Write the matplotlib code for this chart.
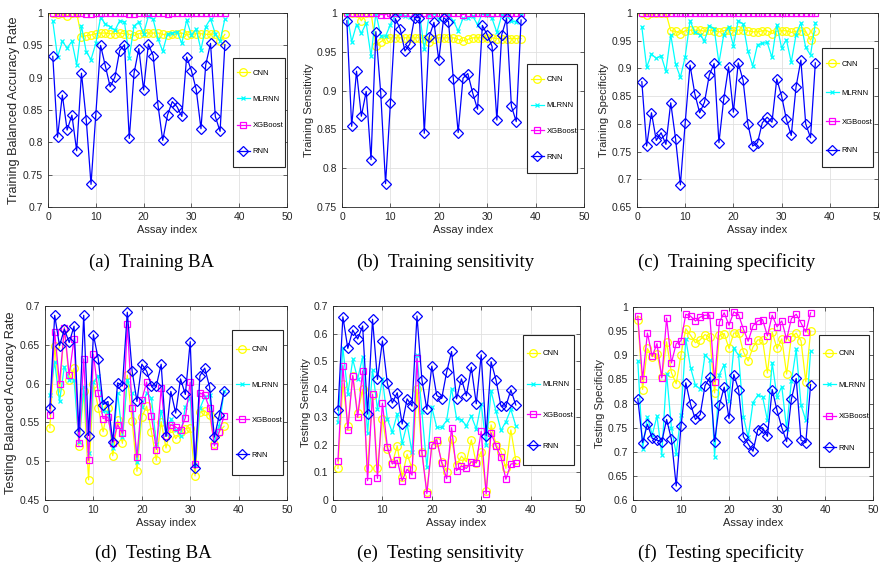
import numpy as np
import matplotlib
matplotlib.use("Agg")
import matplotlib.pyplot as plt
from matplotlib.patches import Rectangle

plt.rcParams['font.family'] = ['Liberation Sans', 'DejaVu Sans']

idx = np.arange(1, 38)
models = ['CNN', 'MLRNN', 'XGBoost', 'RNN']

# (a) training balanced accuracy
a_cnn = [1.0, 0.998, 1.0, 0.995, 1.0, 1.0, 0.963, 0.965, 0.966, 0.968, 0.969, 0.969, 0.968, 0.968, 0.969,
         0.968, 0.967, 0.965, 0.968, 0.969, 0.969, 0.969, 0.969, 0.967, 0.966, 0.967, 0.968, 0.969, 0.966,
         0.967, 0.968, 0.968, 0.967, 0.967, 0.968, 0.956, 0.967]
a_mlrnn = [0.987, 0.932, 0.956, 0.946, 0.956, 0.920, 0.980, 0.940, 0.928, 0.953, 0.993, 0.983, 0.979,
           0.973, 0.988, 0.986, 0.931, 0.980, 0.986, 0.968, 0.995, 0.990, 0.960, 0.941, 0.968, 0.969,
           0.971, 0.953, 0.989, 0.966, 0.975, 0.943, 0.979, 0.991, 0.968, 0.956, 0.991]
a_xgb = [1.0] * 7 + [0.999, 0.999] + [1.0] * 7 + [0.999, 0.999] + [1.0] * 6 + [0.999] + [1.0] * 12
a_rnn = [0.933, 0.808, 0.873, 0.819, 0.842, 0.787, 0.907, 0.835, 0.735, 0.843, 0.950, 0.918, 0.886,
         0.901, 0.942, 0.951, 0.806, 0.907, 0.945, 0.881, 0.952, 0.934, 0.858, 0.803, 0.842, 0.863,
         0.855, 0.840, 0.932, 0.911, 0.882, 0.821, 0.920, 0.953, 0.840, 0.817, 0.951]

# (b) training sensitivity
b_cnn = [1.0, 1.0, 1.0, 0.990, 1.0, 1.0, 0.958, 0.963, 0.967, 0.968, 0.968, 0.968, 0.968, 0.968, 0.968,
         0.968, 0.966, 0.962, 0.967, 0.968, 0.968, 0.968, 0.968, 0.966, 0.964, 0.966, 0.968, 0.968, 0.968,
         0.968, 0.968, 0.967, 0.967, 0.967, 0.967, 0.967, 0.967]
b_mlrnn = [1.0, 0.963, 0.985, 0.974, 0.987, 0.944, 1.0, 0.971, 0.970, 0.985, 0.997, 0.998, 0.996, 0.995,
           0.997, 1.0, 0.953, 0.998, 1.0, 0.992, 1.0, 0.998, 0.990, 0.977, 0.993, 0.993, 0.996, 0.985,
           1.0, 0.998, 0.993, 0.975, 0.997, 0.996, 0.990, 0.988, 1.0]
b_xgb = [1.0] * 7 + [0.998, 0.998] + [1.0] * 8 + [0.998] + [1.0] * 6 + [0.998] + [1.0] * 12
b_rnn = [0.990, 0.854, 0.925, 0.867, 0.899, 0.811, 0.976, 0.897, 0.780, 0.884, 0.993, 0.980, 0.951,
         0.960, 0.994, 0.994, 0.845, 0.969, 0.988, 0.939, 0.994, 0.989, 0.915, 0.846, 0.916, 0.922,
         0.897, 0.876, 0.984, 0.972, 0.957, 0.862, 0.972, 0.993, 0.880, 0.860, 0.991]

# (c) training specificity
c_cnn = [1.0, 0.997, 1.0, 1.0, 1.0, 1.0, 0.968, 0.967, 0.963, 0.968, 0.969, 0.969, 0.969, 0.967, 0.969,
         0.968, 0.966, 0.968, 0.969, 0.968, 0.969, 0.969, 0.968, 0.966, 0.966, 0.968, 0.968, 0.963, 0.967,
         0.968, 0.968, 0.965, 0.967, 0.968, 0.967, 0.951, 0.967]
c_mlrnn = [0.975, 0.902, 0.926, 0.918, 0.923, 0.895, 0.961, 0.908, 0.884, 0.921, 0.986, 0.965, 0.961,
           0.950, 0.977, 0.972, 0.910, 0.961, 0.975, 0.941, 0.986, 0.980, 0.931, 0.905, 0.943, 0.945,
           0.947, 0.920, 0.979, 0.937, 0.952, 0.911, 0.961, 0.982, 0.938, 0.924, 0.982]
c_xgb = [1.0] * 37
c_rnn = [0.876, 0.760, 0.820, 0.770, 0.784, 0.763, 0.838, 0.773, 0.690, 0.802, 0.906, 0.854, 0.820,
         0.839, 0.888, 0.909, 0.766, 0.845, 0.903, 0.821, 0.910, 0.879, 0.800, 0.760, 0.766, 0.802,
         0.812, 0.803, 0.881, 0.850, 0.808, 0.779, 0.867, 0.915, 0.800, 0.775, 0.910]

# (d) testing balanced accuracy
d_cnn = [0.543, 0.648, 0.589, 0.671, 0.605, 0.620, 0.519, 0.590, 0.476, 0.600, 0.569, 0.538, 0.568,
         0.507, 0.553, 0.523, 0.611, 0.552, 0.487, 0.557, 0.571, 0.538, 0.501, 0.551, 0.517, 0.543,
         0.529, 0.538, 0.542, 0.543, 0.481, 0.563, 0.565, 0.559, 0.522, 0.538, 0.545]
d_mlrnn = [0.585, 0.628, 0.577, 0.622, 0.605, 0.605, 0.525, 0.596, 0.511, 0.602, 0.610, 0.565, 0.563,
           0.517, 0.588, 0.531, 0.605, 0.588, 0.499, 0.570, 0.588, 0.581, 0.522, 0.565, 0.535, 0.554,
           0.540, 0.533, 0.570, 0.582, 0.495, 0.568, 0.583, 0.585, 0.525, 0.545, 0.590]
d_xgb = [0.560, 0.667, 0.600, 0.672, 0.611, 0.658, 0.524, 0.632, 0.501, 0.638, 0.588, 0.555, 0.557,
         0.524, 0.547, 0.536, 0.677, 0.569, 0.505, 0.579, 0.602, 0.558, 0.515, 0.594, 0.532, 0.547,
         0.544, 0.540, 0.556, 0.602, 0.497, 0.588, 0.585, 0.568, 0.520, 0.538, 0.558]
d_rnn = [0.568, 0.688, 0.649, 0.670, 0.653, 0.674, 0.538, 0.688, 0.533, 0.663, 0.632, 0.573, 0.577,
         0.525, 0.601, 0.597, 0.692, 0.616, 0.577, 0.625, 0.616, 0.597, 0.597, 0.625, 0.532, 0.590,
         0.562, 0.606, 0.586, 0.654, 0.491, 0.610, 0.620, 0.596, 0.531, 0.559, 0.590]

# (e) testing sensitivity
e_cnn = [0.114, 0.420, 0.267, 0.448, 0.313, 0.400, 0.114, 0.380, 0.114, 0.292, 0.184, 0.132, 0.196,
         0.084, 0.165, 0.114, 0.400, 0.174, 0.030, 0.199, 0.211, 0.138, 0.102, 0.220, 0.126, 0.158,
         0.138, 0.217, 0.132, 0.175, 0.032, 0.271, 0.200, 0.175, 0.114, 0.253, 0.144]
e_mlrnn = [0.282, 0.550, 0.382, 0.507, 0.437, 0.517, 0.240, 0.470, 0.328, 0.437, 0.292, 0.245, 0.310,
           0.205, 0.274, 0.172, 0.522, 0.316, 0.118, 0.335, 0.262, 0.262, 0.287, 0.402, 0.296, 0.290,
           0.268, 0.303, 0.257, 0.348, 0.197, 0.393, 0.320, 0.251, 0.283, 0.327, 0.268]
e_xgb = [0.141, 0.485, 0.254, 0.449, 0.298, 0.466, 0.070, 0.382, 0.078, 0.349, 0.193, 0.130, 0.144,
         0.070, 0.111, 0.090, 0.511, 0.171, 0.023, 0.197, 0.218, 0.135, 0.077, 0.261, 0.106, 0.123,
         0.114, 0.138, 0.135, 0.248, 0.022, 0.243, 0.194, 0.154, 0.075, 0.130, 0.132]
e_rnn = [0.324, 0.661, 0.547, 0.613, 0.581, 0.628, 0.310, 0.652, 0.435, 0.574, 0.421, 0.350, 0.387,
         0.274, 0.365, 0.339, 0.664, 0.433, 0.327, 0.483, 0.377, 0.366, 0.461, 0.536, 0.365, 0.437,
         0.376, 0.479, 0.347, 0.524, 0.232, 0.499, 0.433, 0.339, 0.339, 0.397, 0.343]

# (f) testing specificity
f_cnn = [0.974, 0.829, 0.914, 0.897, 0.903, 0.855, 0.928, 0.864, 0.841, 0.901, 0.955, 0.941, 0.926,
         0.932, 0.943, 0.937, 0.822, 0.941, 0.945, 0.914, 0.946, 0.946, 0.907, 0.888, 0.917, 0.932,
         0.931, 0.863, 0.948, 0.914, 0.934, 0.861, 0.938, 0.946, 0.930, 0.845, 0.950]
f_mlrnn = [0.888, 0.706, 0.772, 0.735, 0.774, 0.694, 0.862, 0.750, 0.696, 0.777, 0.933, 0.874, 0.838,
           0.830, 0.901, 0.890, 0.690, 0.860, 0.880, 0.806, 0.914, 0.900, 0.773, 0.730, 0.802, 0.817,
           0.814, 0.765, 0.884, 0.814, 0.835, 0.748, 0.846, 0.912, 0.797, 0.765, 0.909]
f_xgb = [0.981, 0.850, 0.946, 0.898, 0.924, 0.853, 0.977, 0.884, 0.924, 0.930, 0.985, 0.981, 0.971,
         0.979, 0.983, 0.983, 0.845, 0.969, 0.988, 0.962, 0.990, 0.984, 0.954, 0.929, 0.961, 0.971,
         0.974, 0.940, 0.983, 0.959, 0.971, 0.933, 0.976, 0.985, 0.967, 0.948, 0.988]
f_rnn = [0.810, 0.719, 0.757, 0.728, 0.724, 0.721, 0.767, 0.726, 0.629, 0.753, 0.843, 0.798, 0.767,
         0.777, 0.837, 0.854, 0.721, 0.797, 0.834, 0.769, 0.860, 0.828, 0.731, 0.716, 0.701, 0.746,
         0.750, 0.732, 0.829, 0.786, 0.750, 0.721, 0.809, 0.852, 0.724, 0.719, 0.839]

panels = [
    ([a_cnn, a_mlrnn, a_xgb, a_rnn], 'Training Balanced Accuracy Rate', (0.7, 1.0), 0.05, '(a)  Training BA'),
    ([b_cnn, b_mlrnn, b_xgb, b_rnn], 'Training Sensitivity', (0.75, 1.0), 0.05, '(b)  Training sensitivity'),
    ([c_cnn, c_mlrnn, c_xgb, c_rnn], 'Training Specificity', (0.65, 1.0), 0.05, '(c)  Training specificity'),
    ([d_cnn, d_mlrnn, d_xgb, d_rnn], 'Testing Balanced Accuracy Rate', (0.45, 0.7), 0.05, '(d)  Testing BA'),
    ([e_cnn, e_mlrnn, e_xgb, e_rnn], 'Testing Sensitivity', (0.0, 0.7), 0.1, '(e)  Testing sensitivity'),
    ([f_cnn, f_mlrnn, f_xgb, f_rnn], 'Testing Specificity', (0.6, 1.0), 0.05, '(f)  Testing specificity'),
]
ylab_size = [9.2, 8, 8, 9.2, 8, 8]

colors = ['#FFFF00', '#00FFFF', '#FF00FF', '#0000FF']
markers = ['o', 'x', 's', 'D']
msizes = [5.5, 3.5, 4.5, 5]

# axes boxes in pixels: left, right, top, bottom
boxes = [(48, 287, 13, 207), (342, 584, 13, 207), (637, 878, 13, 207),
         (45, 287, 306, 500), (333, 580, 306, 500), (633, 873, 307, 500)]
# legend frames in pixels: left, right, top, bottom, and row spacing
leg_boxes = [(233, 285, 58, 167, 26), (527, 577, 64, 173, 25.7), (822, 873, 48, 167, 28.7),
             (232, 283, 330, 475, 35), (523, 574, 335, 465, 30.7), (819, 869, 335, 467, 31.3)]
cap_x = [151, 446, 727, 153, 440, 721]
cap_y = [262, 262, 262, 553, 553, 553]

W, H = 880, 565
leg_fs = 5.5
fig = plt.figure(figsize=(8.8, 5.65), dpi=100)

for i, (series, ylab, ylim, step, cap) in enumerate(panels):
    l, r, t, b = boxes[i]
    aw, ah = r - l, b - t
    ax = fig.add_axes([l / W, 1 - b / H, aw / W, ah / H])
    for k in range(4):
        ax.plot(idx, series[k], color=colors[k], marker=markers[k], markersize=msizes[k],
                markerfacecolor='none', markeredgewidth=0.9, linewidth=0.9, label=models[k])
    ax.set_xlim(0, 50)
    ax.set_ylim(*ylim)
    ax.set_xticks([0, 10, 20, 30, 40, 50])
    yt = np.round(np.arange(ylim[0], ylim[1] + 1e-9, step), 2)
    ax.set_yticks(yt)
    ax.set_yticklabels(['%g' % v for v in yt])
    ax.grid(True, color='#e0e0e0', linewidth=0.6)
    ax.set_axisbelow(True)
    ax.tick_params(direction='in', top=True, right=True, labelsize=7.5, length=3,
                   width=0.5, colors='#262626')
    for s in ax.spines.values():
        s.set_linewidth(0.6)
        s.set_color('#262626')
    ax.set_xlabel('Assay index', fontsize=8, color='#262626', labelpad=2)
    ax.set_ylabel(ylab, fontsize=ylab_size[i], color='#262626', labelpad=2)

    # legend: frameless legend inside a drawn box
    ll, lr, lt, lb, sp = leg_boxes[i]
    x0, x1 = (ll - l) / aw, (lr - l) / aw
    y0, y1 = (b - lb) / ah, (b - lt) / ah
    ax.add_patch(Rectangle((x0, y0), x1 - x0, y1 - y0, transform=ax.transAxes,
                           facecolor='white', edgecolor='#262626', linewidth=0.8, zorder=4))
    lsp = sp / (leg_fs * 100 / 72) - 0.94
    leg = ax.legend(loc='center left', bbox_to_anchor=(x0 + 3.5 / aw, (y0 + y1) / 2),
                    fontsize=leg_fs, handlelength=1.75, labelspacing=lsp, borderpad=0,
                    handletextpad=0.35, borderaxespad=0, frameon=False)
    leg.set_zorder(5)
    fig.text(cap_x[i] / W, 1 - cap_y[i] / H, cap, ha='center', va='center',
             fontsize=13.5, family='Liberation Serif')

fig.savefig('out.png', dpi=100)
